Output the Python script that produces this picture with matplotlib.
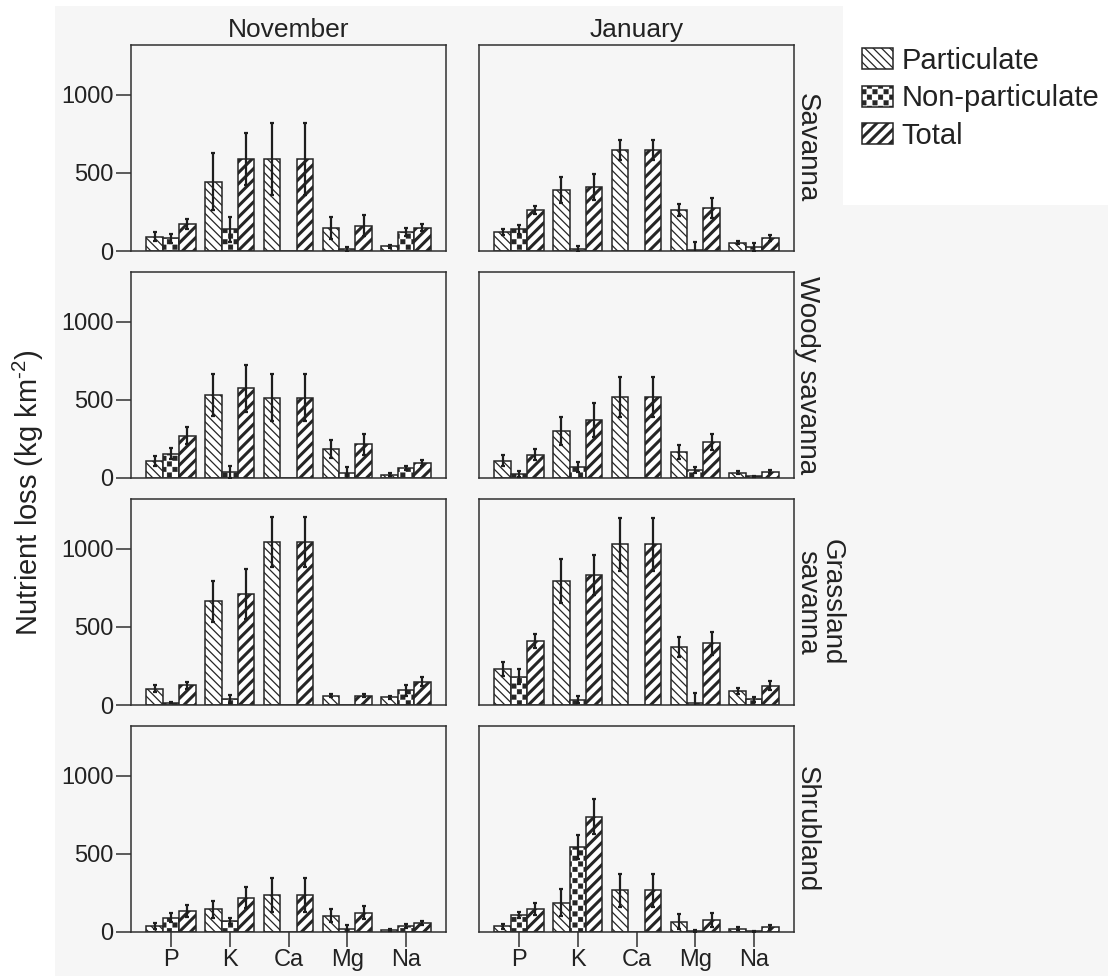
import matplotlib
matplotlib.use('Agg')
import matplotlib.pyplot as plt
import matplotlib.hatch as mhatch
from matplotlib.patches import Patch, Rectangle
from matplotlib.path import Path
import numpy as np

plt.rcParams['font.family'] = ['Liberation Sans', 'DejaVu Sans']
plt.rcParams['mathtext.fontset'] = 'custom'
plt.rcParams['mathtext.rm'] = 'Liberation Sans'

elements = ['P', 'K', 'Ca', 'Mg', 'Na']
series = ['Particulate', 'Non-particulate', 'Total']
months = ['November', 'January']
habitats = ['Savanna', 'Woody savanna', 'Grassland\nsavanna', 'Shrubland']

# rows: particulate, non-particulate, total ; columns follow `elements`
savanna_nov = [[92, 444, 592, 145, 30], [81, 139, 0, 10, 120], [173, 588, 592, 162, 150]]
savanna_nov_se = [[30, 182, 230, 71, 8], [27, 80, 0, 15, 25], [32, 166, 230, 67, 25]]
savanna_jan = [[122, 391, 647, 263, 53], [139, 15, 0, 8, 28], [263, 410, 647, 278, 85]]
savanna_jan_se = [[21, 81, 65, 38, 10], [30, 19, 0, 50, 25], [27, 86, 65, 64, 19]]

woody_nov = [[110, 530, 515, 185, 20], [155, 40, 0, 30, 65], [270, 575, 515, 215, 95]]
woody_nov_se = [[30, 135, 150, 60, 10], [35, 40, 0, 40, 15], [55, 150, 150, 70, 20]]
woody_jan = [[110, 300, 520, 165, 35], [25, 70, 0, 50, 10], [150, 370, 520, 230, 40]]
woody_jan_se = [[35, 90, 130, 45, 10], [20, 30, 0, 20, 5], [35, 110, 130, 50, 10]]

grass_nov = [[105, 665, 1045, 60, 50], [15, 40, 0, 0, 95], [125, 710, 1045, 60, 150]]
grass_nov_se = [[20, 130, 160, 10, 10], [5, 25, 0, 0, 35], [25, 160, 160, 10, 30]]
grass_jan = [[229, 795, 1030, 370, 92], [182, 35, 0, 15, 36], [410, 833, 1030, 395, 124]]
grass_jan_se = [[45, 140, 170, 64, 19], [47, 25, 0, 60, 17], [45, 130, 170, 75, 28]]

shrub_nov = [[38, 145, 237, 103, 13], [92, 70, 0, 17, 38], [135, 220, 237, 124, 56]]
shrub_nov_se = [[20, 54, 111, 42, 6], [30, 18, 0, 28, 15], [36, 68, 111, 41, 14]]
shrub_jan = [[36, 188, 267, 66, 21], [109, 545, 0, 5, 5], [147, 740, 267, 79, 32]]
shrub_jan_se = [[17, 86, 107, 47, 8], [21, 75, 0, 5, 3], [37, 115, 107, 45, 11]]

panels = [
    [(savanna_nov, savanna_nov_se), (savanna_jan, savanna_jan_se)],
    [(woody_nov, woody_nov_se), (woody_jan, woody_jan_se)],
    [(grass_nov, grass_nov_se), (grass_jan, grass_jan_se)],
    [(shrub_nov, shrub_nov_se), (shrub_jan, shrub_jan_se)],
]


# filled checkerboard hatch, takes the place of the '*' (stars) hatch
class CheckerHatch(mhatch.HatchPatternBase):
    def __init__(self, hatch, density):
        self.cells = 18 if '*' in hatch else 0
        self.num_vertices = (self.cells ** 2 // 2) * 5

    def set_vertices_and_codes(self, vertices, codes):
        s = 1.0 / self.cells
        d = 0.004
        k = 0
        for i in range(self.cells):
            for j in range(self.cells):
                if (i + j) % 2:
                    continue
                x0, y0 = i * s + d, j * s + d
                x1, y1 = x0 + s - 2 * d, y0 + s - 2 * d
                vertices[k:k + 5] = [(x0, y0), (x1, y0), (x1, y1), (x0, y1), (x0, y0)]
                codes[k:k + 5] = [Path.MOVETO, Path.LINETO, Path.LINETO,
                                  Path.LINETO, Path.CLOSEPOLY]
                k += 5


mhatch._hatch_types = [CheckerHatch if t is mhatch.Stars else t
                       for t in mhatch._hatch_types]

BG = '#f6f6f6'
INK = '#262626'
HATCHES = ['\\\\\\\\', '*', '///']
HATCH_LW = [0.9, 0.2, 2.2]


def set_hlw(patch, lw):
    if hasattr(patch, 'set_hatch_linewidth'):
        patch.set_hatch_linewidth(lw)


fig = plt.figure(figsize=(11.08, 9.76), dpi=100, facecolor='white')
W, H = 1108.0, 976.0
fig.patches.append(Rectangle((55 / W, 0), 1 - 55 / W, 1 - 6 / H, transform=fig.transFigure,
                             facecolor=BG, edgecolor='none', zorder=-10))
fig.patches.append(Rectangle((843 / W, 1 - 205 / H), 1 - 843 / W, 205 / H - 6 / H,
                             transform=fig.transFigure, facecolor='white',
                             edgecolor='none', zorder=-9))

col_left = [131, 479]
col_width = 315
row_top = [45, 272, 499, 726]
row_height = 206

x = np.arange(len(elements))
width = 0.28
offsets = [-width, 0, width]

for r in range(4):
    for c in range(2):
        ax = fig.add_axes([col_left[c] / W, 1 - (row_top[r] + row_height) / H,
                           col_width / W, row_height / H])
        ax.set_facecolor(BG)
        means, errs = panels[r][c]
        for k in range(3):
            bars = ax.bar(x + offsets[k], means[k], width, facecolor='white',
                          edgecolor=INK, linewidth=1.1, hatch=HATCHES[k], zorder=2)
            for b in bars:
                set_hlw(b, HATCH_LW[k])
            m = np.array(means[k], dtype=float)
            e = np.array(errs[k], dtype=float)
            keep = e > 0
            ax.errorbar((x + offsets[k])[keep], m[keep], yerr=e[keep], fmt='none',
                        ecolor='#1e1e1e', elinewidth=1.6, capsize=1.4, capthick=1.6,
                        zorder=3)
        ax.set_xlim(-0.68, 4.68)
        ax.set_ylim(0, 1320)
        ax.set_yticks([0, 500, 1000])
        ax.set_xticks(x)
        for sp in ax.spines.values():
            sp.set_color('#303030')
            sp.set_linewidth(1.1)
        ax.tick_params(direction='out', length=10.5, width=1.1, color='#303030',
                       labelsize=17, labelcolor='#222222', pad=2)
        if r < 3:
            ax.tick_params(axis='x', bottom=False, labelbottom=False)
        else:
            ax.set_xticklabels(elements)
        if c == 1:
            ax.tick_params(axis='y', left=False, labelleft=False)
            ax.text(1.0, 0.5, habitats[r], transform=ax.transAxes, rotation=-90,
                    ha='left', va='center', fontsize=20, color='#222222',
                    multialignment='center', linespacing=0.95)
        if r == 0:
            ax.set_title(months[c], fontsize=19, color='#222222', pad=6)

fig.text(28 / W, 1 - 493 / H, 'Nutrient loss (kg km$^{\\text{-2}}$)', rotation=90,
         ha='center', va='center', fontsize=21, color='#222222')

handles = [Patch(facecolor='white', edgecolor=INK, linewidth=1.1, hatch=h) for h in HATCHES]
leg = fig.legend(handles, series, loc='upper left', bbox_to_anchor=(862 / W, 1 - 47 / H),
                 frameon=False, fontsize=21, handlelength=1.06, handleheight=0.72,
                 handletextpad=0.3, labelspacing=0.32, borderpad=0, borderaxespad=0)
for p, lw in zip(leg.get_patches(), HATCH_LW):
    set_hlw(p, lw)
for t in leg.get_texts():
    t.set_color('#222222')

fig.savefig('out.png', dpi=100, facecolor='white')
